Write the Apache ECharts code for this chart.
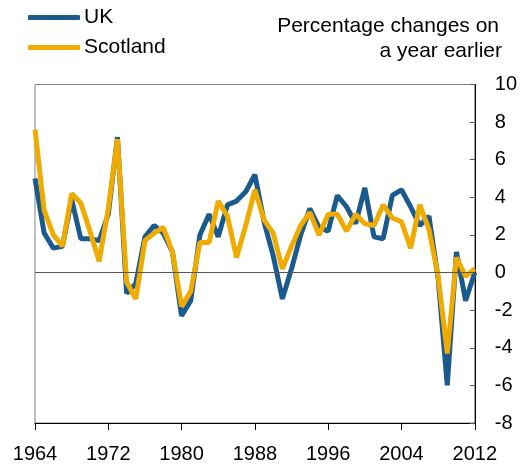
<!DOCTYPE html>
<html>
<head>
<meta charset="utf-8">
<script src="https://cdn.jsdelivr.net/npm/echarts@6/dist/echarts.min.js"></script>
<style>html,body{margin:0;padding:0;background:#fff;}#c{width:520px;height:464px;}</style>
</head>
<body>
<div id="c"></div>
<script>
var years = [];
for (var y = 1964; y <= 2012; y++) years.push(String(y));

var ukValues = [5.0, 2.1, 1.3, 1.4, 3.9, 1.8, 1.8, 1.7, 3.1, 7.2,
  -1.1, -0.6, 1.9, 2.5, 2.1, 1.1, -2.3, -1.5, 2.0, 3.1,
  1.9, 3.6, 3.8, 4.3, 5.2, 2.7, 0.9, -1.4, 0.2, 2.0,
  3.4, 2.4, 2.2, 4.1, 3.5, 2.6, 4.5, 1.9, 1.8, 4.1,
  4.4, 3.5, 2.5, 3.0, -0.3, -6.0, 1.1, -1.5, 0.0];

var scotlandValues = [7.6, 3.3, 2.0, 1.4, 4.2, 3.7, 2.2, 0.6, 3.4, 7.1,
  -0.5, -1.4, 1.7, 2.1, 2.4, 1.1, -1.8, -1.0, 1.6, 1.6,
  3.8, 3.0, 0.8, 2.5, 4.4, 2.8, 2.1, 0.2, 1.4, 2.5,
  3.2, 2.0, 3.1, 3.1, 2.2, 3.1, 2.6, 2.5, 3.6, 2.9,
  2.7, 1.3, 3.6, 2.3, -0.2, -4.3, 0.8, -0.2, 0.2];

var titleLines = ['Percentage changes on', 'a year earlier'];
var seriesNames = ['UK', 'Scotland'];

var FONT = '"Liberation Sans", Arial, sans-serif';
var chart = echarts.init(document.getElementById('c'), null, {renderer: 'canvas'});
chart.setOption({
  animation: false,
  backgroundColor: '#ffffff',
  textStyle: {fontFamily: FONT, color: '#000'},
  grid: {left: 35, right: 45, top: 84.5, bottom: 38.3, show: true, borderColor: '#808080', borderWidth: 1},
  legend: {
    orient: 'vertical', left: 28, top: 7, padding: 0, itemWidth: 52, itemHeight: 5, itemGap: 9,
    icon: 'roundRect',
    textStyle: {fontSize: 21, color: '#000', fontFamily: FONT, lineHeight: 21, padding: [0, 0, 0, -1]},
    data: seriesNames
  },
  graphic: [
    {type: 'text', right: 21, top: 16, style: {text: titleLines[0], fontSize: 21, fontFamily: FONT, fill: '#000'}},
    {type: 'text', right: 18, top: 41, style: {text: titleLines[1], fontSize: 21, fontFamily: FONT, fill: '#000'}}
  ],
  xAxis: {
    type: 'category', data: years, boundaryGap: false,
    axisLine: {onZero: false, lineStyle: {color: '#000', width: 1}},
    axisTick: {show: true, interval: 7, length: 7, lineStyle: {color: '#000'}},
    axisLabel: {interval: 7, fontSize: 20, color: '#000', margin: 21, fontFamily: FONT},
    splitLine: {show: false}
  },
  yAxis: {
    type: 'value', position: 'right', min: -8, max: 10, interval: 2,
    axisLine: {show: true, lineStyle: {color: '#000', width: 1}},
    axisTick: {show: true, inside: true, length: 5, lineStyle: {color: '#555'}},
    axisLabel: {fontSize: 20, color: '#000', margin: 20, fontFamily: FONT},
    splitLine: {show: false}
  },
  series: [
    {
      name: seriesNames[0], type: 'line', data: ukValues, showSymbol: false, symbol: 'none',
      lineStyle: {color: '#1B5A8C', width: 5}, itemStyle: {color: '#1B5A8C'},
      markLine: {silent: true, symbol: 'none', label: {show: false},
        lineStyle: {color: '#555', width: 1, type: 'solid'}, data: [{yAxis: 0}]}
    },
    {
      name: seriesNames[1], type: 'line', data: scotlandValues, showSymbol: false, symbol: 'none',
      lineStyle: {color: '#F0AB00', width: 5}, itemStyle: {color: '#F0AB00'}
    }
  ]
});
</script>
</body>
</html>
